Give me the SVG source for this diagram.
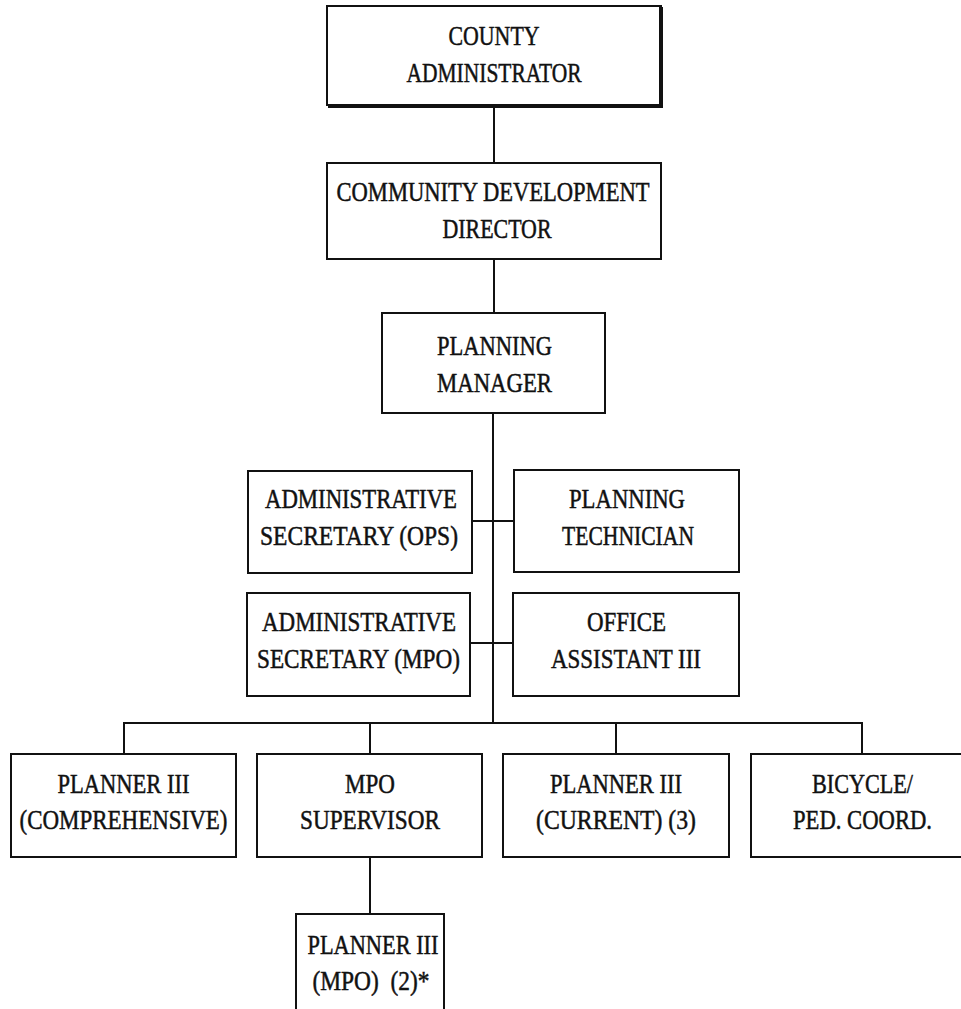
<svg xmlns="http://www.w3.org/2000/svg" width="961" height="1009" viewBox="0 0 961 1009">
<style>
.box{fill:#fff;stroke:#111;stroke-width:2}
.t{font-family:"Liberation Serif","Times New Roman",serif;font-size:28px;fill:#111;stroke:#111;stroke-width:0.5;text-anchor:middle}
.c{stroke:#111;stroke-width:2;fill:none}
</style>
<rect width="961" height="1009" fill="#fff"/>
<g id="connectors">
<line class="c" x1="494" y1="105" x2="494" y2="163"/>
<line class="c" x1="494" y1="259" x2="494" y2="313"/>
<line class="c" x1="493" y1="413" x2="493" y2="723"/>
<line class="c" x1="472" y1="521" x2="514" y2="521"/>
<line class="c" x1="470" y1="643" x2="513" y2="643"/>
<line class="c" x1="123" y1="723" x2="863" y2="723"/>
<line class="c" x1="124" y1="723" x2="124" y2="754"/>
<line class="c" x1="370" y1="723" x2="370" y2="754"/>
<line class="c" x1="616" y1="723" x2="616" y2="754"/>
<line class="c" x1="862" y1="723" x2="862" y2="754"/>
<line class="c" x1="370" y1="857" x2="370" y2="914"/>
</g>
<g id="county-administrator">
<rect class="box" x="327" y="6" width="334" height="99"/>
<path d="M661 7V106H328" stroke="#111" stroke-width="4" fill="none"/>
<text class="t" x="494" y="45" textLength="91" lengthAdjust="spacingAndGlyphs">COUNTY</text>
<text class="t" x="494" y="82" textLength="175" lengthAdjust="spacingAndGlyphs">ADMINISTRATOR</text>
</g>
<g id="community-development-director">
<rect class="box" x="327" y="163" width="334" height="96"/>
<text class="t" x="493" y="201" textLength="313" lengthAdjust="spacingAndGlyphs">COMMUNITY DEVELOPMENT</text>
<text class="t" x="497" y="238" textLength="109" lengthAdjust="spacingAndGlyphs">DIRECTOR</text>
</g>
<g id="planning-manager">
<rect class="box" x="382" y="313" width="223" height="100"/>
<text class="t" x="494.5" y="355" textLength="115" lengthAdjust="spacingAndGlyphs">PLANNING</text>
<text class="t" x="494.5" y="392" textLength="115" lengthAdjust="spacingAndGlyphs">MANAGER</text>
</g>
<g id="admin-secretary-ops">
<rect class="box" x="248" y="471" width="224" height="102"/>
<text class="t" x="361" y="508" textLength="192" lengthAdjust="spacingAndGlyphs">ADMINISTRATIVE</text>
<text class="t" x="359" y="545" textLength="198" lengthAdjust="spacingAndGlyphs">SECRETARY (OPS)</text>
</g>
<g id="planning-technician">
<rect class="box" x="514" y="470" width="225" height="102"/>
<text class="t" x="627" y="508" textLength="116" lengthAdjust="spacingAndGlyphs">PLANNING</text>
<text class="t" x="628" y="545" textLength="132" lengthAdjust="spacingAndGlyphs">TECHNICIAN</text>
</g>
<g id="admin-secretary-mpo">
<rect class="box" x="247" y="593" width="223" height="103"/>
<text class="t" x="359" y="631" textLength="194" lengthAdjust="spacingAndGlyphs">ADMINISTRATIVE</text>
<text class="t" x="358.5" y="668" textLength="203" lengthAdjust="spacingAndGlyphs">SECRETARY (MPO)</text>
</g>
<g id="office-assistant">
<rect class="box" x="513" y="593" width="226" height="103"/>
<text class="t" x="626.5" y="631" textLength="79" lengthAdjust="spacingAndGlyphs">OFFICE</text>
<text class="t" x="626" y="668" textLength="150" lengthAdjust="spacingAndGlyphs">ASSISTANT III</text>
</g>
<g id="planner-comprehensive">
<rect class="box" x="11" y="754" width="225" height="103"/>
<text class="t" x="123.5" y="793" textLength="132" lengthAdjust="spacingAndGlyphs">PLANNER III</text>
<text class="t" x="123.5" y="829" textLength="208" lengthAdjust="spacingAndGlyphs">(COMPREHENSIVE)</text>
</g>
<g id="mpo-supervisor">
<rect class="box" x="257" y="754" width="225" height="103"/>
<text class="t" x="370" y="793" textLength="50" lengthAdjust="spacingAndGlyphs">MPO</text>
<text class="t" x="370" y="829" textLength="140" lengthAdjust="spacingAndGlyphs">SUPERVISOR</text>
</g>
<g id="planner-current">
<rect class="box" x="503" y="754" width="226" height="103"/>
<text class="t" x="616" y="793" textLength="132" lengthAdjust="spacingAndGlyphs">PLANNER III</text>
<text class="t" x="616" y="829" textLength="160" lengthAdjust="spacingAndGlyphs">(CURRENT) (3)</text>
</g>
<g id="bicycle-ped-coord">
<rect class="box" x="751" y="754" width="222" height="103"/>
<text class="t" x="862.5" y="793" textLength="101" lengthAdjust="spacingAndGlyphs">BICYCLE/</text>
<text class="t" x="862.5" y="829" textLength="139" lengthAdjust="spacingAndGlyphs">PED. COORD.</text>
</g>
<g id="planner-mpo">
<rect class="box" x="296" y="914" width="148" height="110"/>
<text class="t" x="373" y="954" textLength="131" lengthAdjust="spacingAndGlyphs">PLANNER III</text>
<text class="t" x="371" y="990" textLength="117" lengthAdjust="spacingAndGlyphs" xml:space="preserve">(MPO)  (2)*</text>
</g>
</svg>
